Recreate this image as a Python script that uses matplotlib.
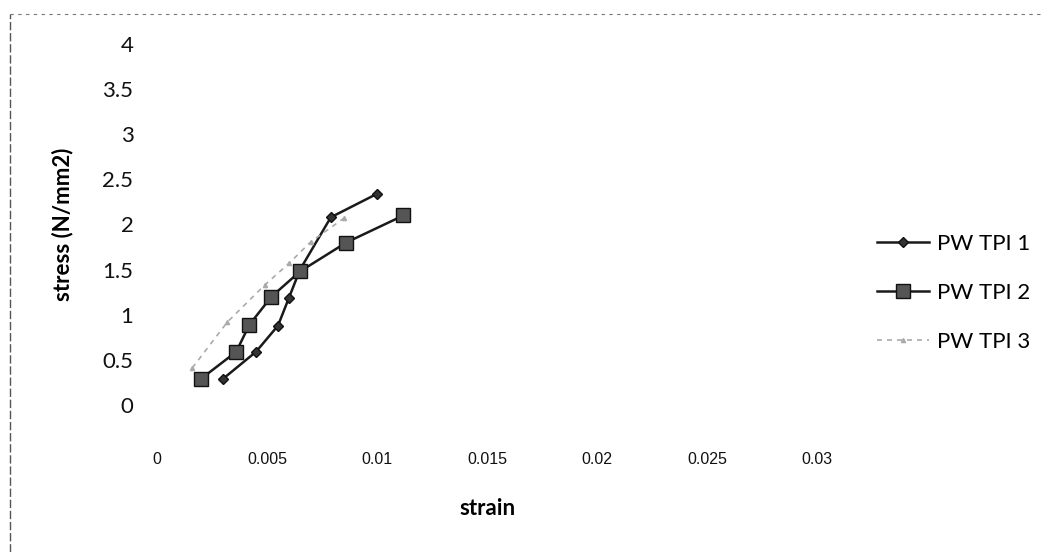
import matplotlib.pyplot as plt
from matplotlib.lines import Line2D

# values
strain_1 = [0.0030, 0.0045, 0.0055, 0.0060, 0.0065, 0.0079, 0.0100]
stress_1 = [0.29, 0.59, 0.88, 1.19, 1.50, 2.08, 2.34]

strain_2 = [0.0020, 0.0036, 0.0042, 0.0052, 0.0065, 0.0086, 0.0112]
stress_2 = [0.29, 0.59, 0.89, 1.20, 1.48, 1.80, 2.10]

strain_3 = [0.0016, 0.0032, 0.0049, 0.0060, 0.0070, 0.0085]
stress_3 = [0.41, 0.92, 1.33, 1.57, 1.81, 2.07]

labels = ["PW TPI 1", "PW TPI 2", "PW TPI 3"]
xticks = [0, 0.005, 0.01, 0.015, 0.02, 0.025, 0.03]
xticklabels = ["0", "0.005", "0.01", "0.015", "0.02", "0.025", "0.03"]
yticks = [0, 0.5, 1, 1.5, 2, 2.5, 3, 3.5, 4]
yticklabels = ["0", "0.5", "1", "1.5", "2", "2.5", "3", "3.5", "4"]

fig = plt.figure(figsize=(10.44, 5.52), dpi=100)
ax = fig.add_axes([0.1504, 0.2663, 0.6322, 0.654])

ax.plot(strain_1, stress_1, color="#1a1a1a", lw=1.8, marker="D", ms=5,
        mfc="#333333", mec="#111111", label=labels[0])
ax.plot(strain_2, stress_2, color="#1a1a1a", lw=1.8, marker="s", ms=10,
        mfc="#555555", mec="#111111", label=labels[1])
ax.plot(strain_3, stress_3, color="#aaaaaa", lw=1.2, ls=(0, (3, 3)),
        marker="^", ms=3, mfc="#aaaaaa", mec="#aaaaaa", label=labels[2])

ax.set_xlim(0, 0.03)
ax.set_ylim(0, 4)
ax.set_xticks(xticks)
ax.set_xticklabels(xticklabels, fontfamily="Liberation Sans", fontsize=11.5)
ax.set_yticks(yticks)
ax.set_yticklabels(yticklabels, fontfamily="Lato", fontsize=16)
ax.tick_params(axis="x", length=0, pad=34, colors="#111111")
ax.tick_params(axis="y", length=0, pad=17, colors="#111111")
for s in ax.spines.values():
    s.set_visible(False)

ax.set_xlabel("strain", fontfamily="Lato", fontsize=16, fontweight="bold",
              labelpad=22)
ax.set_ylabel("stress (N/mm2)", fontfamily="Lato", fontsize=16,
              fontweight="bold", labelpad=21)

leg = ax.legend(loc="center left", bbox_to_anchor=(1.06, 0.31), frameon=False,
                prop={"family": "Lato", "size": 16}, handlelength=2.35,
                labelspacing=1.3, handletextpad=0.35)

# scanned page frame
fig.add_artist(Line2D([0.01, 1.0], [0.975, 0.975], transform=fig.transFigure,
                      color="#777777", lw=0.8, ls=(0, (3, 4))))
fig.add_artist(Line2D([0.01, 0.01], [0.0, 0.975], transform=fig.transFigure,
                      color="#555555", lw=1.0, ls=(0, (6, 2))))

fig.savefig("out.png", dpi=100)
